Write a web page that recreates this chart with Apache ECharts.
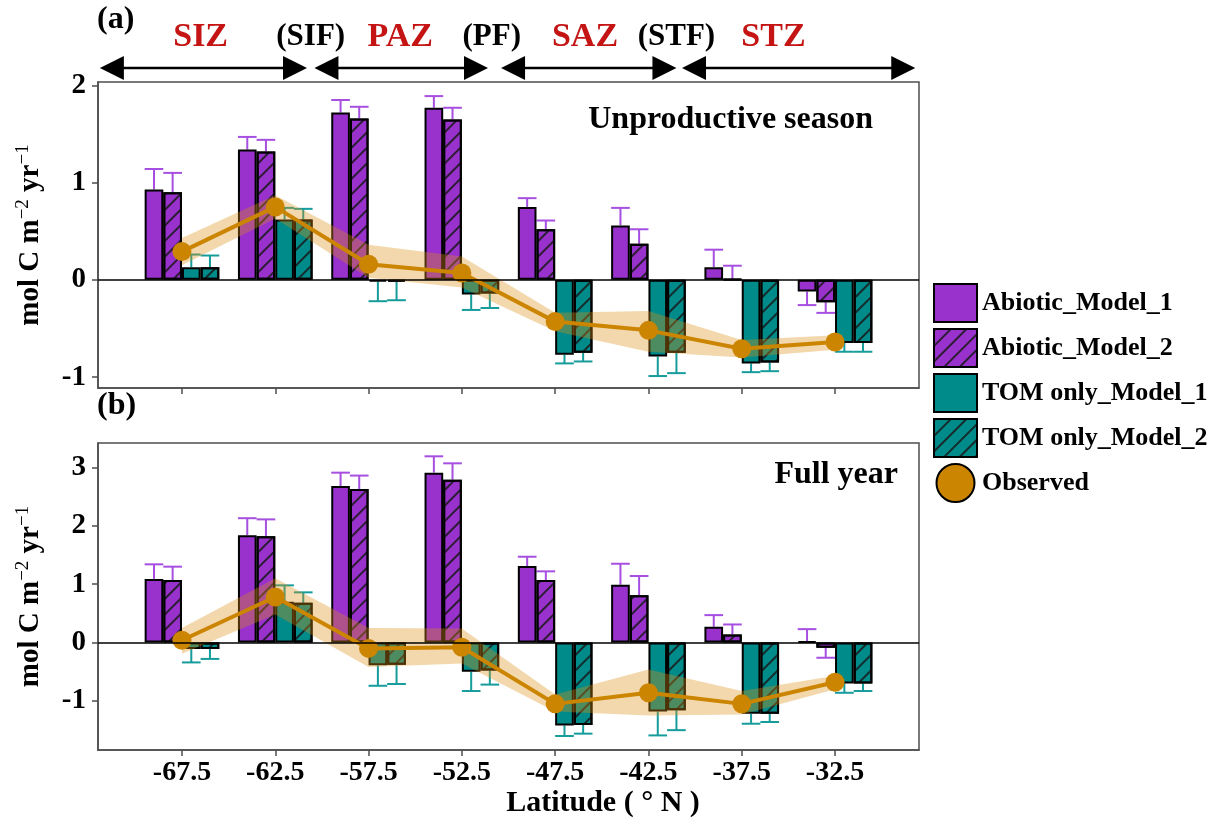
<!DOCTYPE html>
<html>
<head>
<meta charset="utf-8">
<script src="https://cdn.jsdelivr.net/npm/echarts@6/dist/echarts.min.js"></script>
<style>
  html, body { margin: 0; padding: 0; background: #fff; }
  #chart { width: 1223px; height: 826px; }
</style>
</head>
<body>
<div id="chart"></div>
<script>
// Latitude bin centres (degrees N)
const latitudes = [-67.5, -62.5, -57.5, -52.5, -47.5, -42.5, -37.5, -32.5];

// (a) Unproductive season, mol C m-2 yr-1
const abiotic1A     = [0.93, 1.34, 1.72, 1.77, 0.75, 0.56, 0.13, -0.12];
const abiotic1AErr  = [0.21, 0.13, 0.13, 0.12, 0.09, 0.18, 0.18, 0.14];
const abiotic2A     = [0.90, 1.32, 1.66, 1.65, 0.52, 0.37, 0.005, -0.23];
const abiotic2AErr  = [0.20, 0.12, 0.12, 0.12, 0.09, 0.15, 0.14, 0.11];
const tom1A         = [0.13, 0.62, -0.02, -0.15, -0.77, -0.79, -0.86, -0.65];
const tom1AErr      = [0.13, 0.12, 0.20, 0.16, 0.09, 0.20, 0.09, 0.09];
const tom2A         = [0.13, 0.62, -0.02, -0.14, -0.75, -0.75, -0.85, -0.65];
const tom2AErr      = [0.12, 0.11, 0.19, 0.15, 0.09, 0.21, 0.09, 0.09];
const observedA     = [0.29, 0.75, 0.16, 0.07, -0.43, -0.52, -0.71, -0.64];
const observedALow  = [0.15, 0.63, 0.02, -0.08, -0.53, -0.74, -0.80, -0.72];
const observedAHigh = [0.43, 0.87, 0.36, 0.24, -0.34, -0.32, -0.62, -0.57];

// (b) Full year, mol C m-2 yr-1
const abiotic1B     = [1.09, 1.84, 2.68, 2.91, 1.31, 0.99, 0.27, 0.02];
const abiotic1BErr  = [0.25, 0.29, 0.23, 0.28, 0.16, 0.36, 0.20, 0.21];
const abiotic2B     = [1.07, 1.82, 2.63, 2.79, 1.07, 0.81, 0.14, -0.09];
const abiotic2BErr  = [0.23, 0.29, 0.23, 0.28, 0.15, 0.33, 0.17, 0.17];
const tom1B         = [-0.11, 0.70, -0.39, -0.50, -1.42, -1.18, -1.22, -0.70];
const tom1BErr      = [0.23, 0.28, 0.35, 0.33, 0.18, 0.41, 0.17, 0.16];
const tom2B         = [-0.11, 0.68, -0.38, -0.48, -1.41, -1.16, -1.22, -0.70];
const tom2BErr      = [0.17, 0.18, 0.33, 0.24, 0.15, 0.34, 0.14, 0.13];
const observedB     = [0.04, 0.78, -0.10, -0.08, -1.05, -0.86, -1.05, -0.68];
const observedBLow  = [-0.19, 0.48, -0.42, -0.36, -1.18, -1.25, -1.23, -0.80];
const observedBHigh = [0.25, 1.10, 0.25, 0.24, -0.89, -0.46, -0.83, -0.57];

// Y tick values per panel
const yTicksA = [-1, 0, 1, 2];
const yTicksB = [-1, 0, 1, 2, 3];

// Frontal zones across the top (label, latitude of label centre, red = zone)
const zoneLabels = [
  ['SIZ', -66.5, true], ['(SIF)', -60.6, false], ['PAZ', -55.8, true],
  ['(PF)', -50.9, false], ['SAZ', -45.9, true], ['(STF)', -41.0, false], ['STZ', -35.8, true]
];
const zoneSpans = [[-71.9, -60.8], [-60.4, -51.1], [-50.4, -41.0], [-40.7, -28.2]];

const seriesNames = ['Abiotic_Model_1', 'Abiotic_Model_2', 'TOM only_Model_1', 'TOM only_Model_2', 'Observed'];

const FONT = '"Liberation Serif", "Times New Roman", serif';
const PURPLE = '#9932CC';
const TEAL = '#008B8B';
const ORANGE = '#CC8500';
const ERR_PURPLE = '#A64FE0';
const ERR_TEAL = '#179C9C';
const AXIS = '#4d4d4d';

const HATCH = {
  symbol: 'rect',
  symbolSize: 1,
  dashArrayX: [1, 0],
  dashArrayY: [2, 9],
  rotation: -Math.PI / 4,
  color: 'rgba(25,25,25,0.85)'
};

function barSeries(name, gi, values, color, hatched) {
  return {
    type: 'bar', name, xAxisIndex: gi, yAxisIndex: gi,
    data: latitudes.map((x, i) => [x, values[i]]),
    barWidth: '20%', barGap: '0%',
    itemStyle: Object.assign({ color, borderColor: '#000', borderWidth: 2 },
      hatched ? { decal: HATCH } : {}),
    z: 2
  };
}

// Error bars: one-sided whiskers pointing away from zero, cap as wide as the bar
function errSeries(gi, values, errs, slot, color) {
  return {
    type: 'custom', xAxisIndex: gi, yAxisIndex: gi, z: 1, silent: true,
    data: latitudes.map((x, i) => [x, values[i], errs[i]]),
    encode: { x: 0, y: 1 },
    renderItem(params, api) {
      const x = api.value(0), v = api.value(1), e = api.value(2);
      const unit = api.size([1, 0])[0];
      const base = api.coord([x, v]);
      const cx = base[0] + (slot - 1.5) * unit;
      const yEnd = api.coord([x, v + (v >= 0 ? e : -e)])[1];
      const st = { stroke: color, lineWidth: 2 };
      return {
        type: 'group',
        children: [
          { type: 'line', shape: { x1: cx, y1: base[1], x2: cx, y2: yEnd }, style: st },
          { type: 'line', shape: { x1: cx - unit / 2, y1: yEnd, x2: cx + unit / 2, y2: yEnd }, style: st }
        ]
      };
    }
  };
}

// Observed uncertainty band
function bandSeries(gi, low, high) {
  return {
    type: 'custom', xAxisIndex: gi, yAxisIndex: gi, z: 3, silent: true,
    data: latitudes.map((x, i) => [x, low[i], high[i]]),
    encode: { x: 0, y: [1, 2] },
    renderItem(params, api) {
      if (params.dataIndex !== 0) return null;
      const n = params.dataInsideLength;
      const top = [], bottom = [];
      for (let i = 0; i < n; i++) {
        const x = api.value(0, i);
        top.push(api.coord([x, api.value(2, i)]));
        bottom.push(api.coord([x, api.value(1, i)]));
      }
      return {
        type: 'polygon',
        shape: { points: top.concat(bottom.reverse()) },
        style: { fill: 'rgba(218,144,18,0.35)' }
      };
    }
  };
}

function observedSeries(gi, values) {
  return {
    type: 'line', name: 'Observed', xAxisIndex: gi, yAxisIndex: gi, z: 4,
    data: latitudes.map((x, i) => [x, values[i]]),
    symbol: 'circle', symbolSize: 19, showSymbol: true,
    itemStyle: { color: ORANGE },
    lineStyle: { color: ORANGE, width: 4 }
  };
}

const zeroLine = {
  silent: true, symbol: 'none', label: { show: false },
  lineStyle: { color: '#000', width: 1.5, type: 'solid' },
  data: [{ yAxis: 0 }]
};

function xAxis(gi, showLabels) {
  return {
    type: 'value', gridIndex: gi, min: -72, max: -28,
    splitLine: { show: false },
    axisLine: { show: true, onZero: false, lineStyle: { color: AXIS, width: 1.5 } },
    axisTick: { show: true, customValues: latitudes, length: 6, lineStyle: { color: AXIS, width: 1.5 } },
    axisLabel: {
      show: showLabels, customValues: latitudes, margin: 9,
      color: '#000', fontSize: 28, fontWeight: 'bold', fontFamily: FONT
    }
  };
}

function yAxis(gi, min, max, ticks) {
  return {
    type: 'value', gridIndex: gi, min, max,
    splitLine: { show: false },
    axisLine: { show: true, lineStyle: { color: AXIS, width: 1.5 } },
    axisTick: { show: true, customValues: ticks, length: 6, lineStyle: { color: AXIS, width: 1.5 } },
    axisLabel: {
      customValues: ticks, margin: 12,
      color: '#000', fontSize: 29, fontWeight: 'bold', fontFamily: FONT
    },
    name: 'mol C m{s|\u22122} yr{s|\u22121}',
    nameLocation: 'middle', nameRotate: 90, nameGap: 50,
    nameTextStyle: {
      color: '#000', fontSize: 29, fontWeight: 'bold', fontFamily: FONT,
      rich: {
        s: { fontSize: 19, fontWeight: 'normal', fontFamily: FONT, color: '#000', verticalAlign: 'top', padding: [0, 0, 15, 0] }
      }
    }
  };
}

const chart = echarts.init(document.getElementById('chart'), null, { renderer: 'canvas' });

const barsA = [
  barSeries(seriesNames[0], 0, abiotic1A, PURPLE, false),
  barSeries(seriesNames[1], 0, abiotic2A, PURPLE, true),
  barSeries(seriesNames[2], 0, tom1A, TEAL, false),
  barSeries(seriesNames[3], 0, tom2A, TEAL, true)
];
barsA[0].markLine = zeroLine;
const barsB = [
  barSeries(seriesNames[0], 1, abiotic1B, PURPLE, false),
  barSeries(seriesNames[1], 1, abiotic2B, PURPLE, true),
  barSeries(seriesNames[2], 1, tom1B, TEAL, false),
  barSeries(seriesNames[3], 1, tom2B, TEAL, true)
];
barsB[0].markLine = zeroLine;

chart.setOption({
  animation: false,
  backgroundColor: '#fff',
  grid: [
    { left: 98, right: 304, top: 82, height: 306, show: true, borderColor: AXIS, borderWidth: 1.5, backgroundColor: 'transparent', containLabel: false },
    { left: 98, right: 304, top: 443, height: 307, show: true, borderColor: AXIS, borderWidth: 1.5, backgroundColor: 'transparent', containLabel: false }
  ],
  xAxis: [xAxis(0, false), xAxis(1, true)],
  yAxis: [yAxis(0, -1.113, 2.035, yTicksA), yAxis(1, -1.84, 3.418, yTicksB)],
  legend: {
    orient: 'vertical', left: 933, top: 283, padding: 0,
    itemWidth: 43, itemHeight: 38, itemGap: 5,
    textStyle: { color: '#000', fontSize: 26, fontWeight: 'bold', fontFamily: FONT },
    data: [
      { name: seriesNames[0], icon: 'rect' },
      { name: seriesNames[1], icon: 'rect' },
      { name: seriesNames[2], icon: 'rect' },
      { name: seriesNames[3], icon: 'rect' },
      { name: seriesNames[4], icon: 'circle', itemStyle: { color: ORANGE, borderColor: '#000', borderWidth: 2 } }
    ]
  },
  series: [
    ...barsA,
    errSeries(0, abiotic1A, abiotic1AErr, 0, ERR_PURPLE),
    errSeries(0, abiotic2A, abiotic2AErr, 1, ERR_PURPLE),
    errSeries(0, tom1A, tom1AErr, 2, ERR_TEAL),
    errSeries(0, tom2A, tom2AErr, 3, ERR_TEAL),
    bandSeries(0, observedALow, observedAHigh),
    observedSeries(0, observedA),
    ...barsB,
    errSeries(1, abiotic1B, abiotic1BErr, 0, ERR_PURPLE),
    errSeries(1, abiotic2B, abiotic2BErr, 1, ERR_PURPLE),
    errSeries(1, tom1B, tom1BErr, 2, ERR_TEAL),
    errSeries(1, tom2B, tom2BErr, 3, ERR_TEAL),
    bandSeries(1, observedBLow, observedBHigh),
    observedSeries(1, observedB)
  ]
});

// Header zones, panel tags and panel titles
const toPx = lat => chart.convertToPixel({ xAxisIndex: 0 }, lat);
const ARROW_Y = 68, HEAD_LEN = 24, HEAD_HALF = 12;
const graphics = [];
zoneSpans.forEach(([a, b]) => {
  const x1 = toPx(a), x2 = toPx(b);
  graphics.push({ type: 'line', shape: { x1: x1 + HEAD_LEN - 2, y1: ARROW_Y, x2: x2 - HEAD_LEN + 2, y2: ARROW_Y }, style: { stroke: '#000', lineWidth: 2.5 } });
  graphics.push({ type: 'polygon', shape: { points: [[x1, ARROW_Y], [x1 + HEAD_LEN, ARROW_Y - HEAD_HALF], [x1 + HEAD_LEN, ARROW_Y + HEAD_HALF]] }, style: { fill: '#000' } });
  graphics.push({ type: 'polygon', shape: { points: [[x2, ARROW_Y], [x2 - HEAD_LEN, ARROW_Y - HEAD_HALF], [x2 - HEAD_LEN, ARROW_Y + HEAD_HALF]] }, style: { fill: '#000' } });
});
zoneLabels.forEach(([txt, lat, red]) => {
  graphics.push({
    type: 'text', x: toPx(lat), y: 37,
    style: { text: txt, fill: red ? '#C41414' : '#000', fontSize: red ? 34 : 31, fontWeight: 'bold', fontFamily: FONT, align: 'center', verticalAlign: 'middle' }
  });
});
function label(text, x, y, size, align) {
  return { type: 'text', x, y, style: { text, fill: '#000', fontSize: size, fontWeight: 'bold', fontFamily: FONT, align, verticalAlign: 'middle' } };
}
graphics.push(label('(a)', 97, 20, 32, 'left'));
graphics.push(label('(b)', 97, 406, 32, 'left'));
graphics.push(label('Unproductive season', 873, 120, 32, 'right'));
graphics.push(label('Full year', 898, 475, 32, 'right'));
graphics.push(label('Latitude ( \u00b0 N )', 603, 803, 30, 'center'));
chart.setOption({ graphic: graphics });
</script>
</body>
</html>
